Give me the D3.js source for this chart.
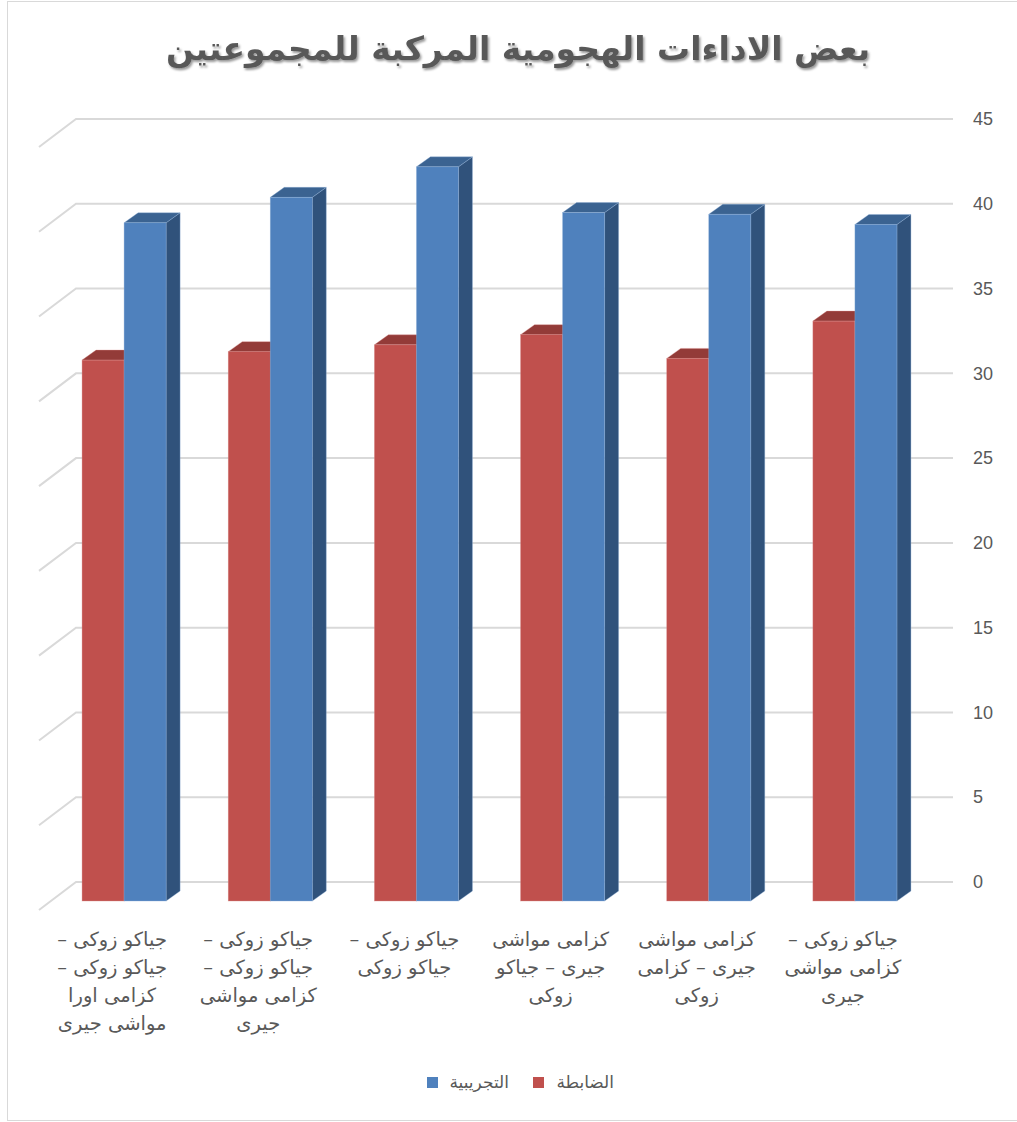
<!DOCTYPE html>
<html>
<head>
<meta charset="utf-8">
<script src="https://cdn.jsdelivr.net/npm/d3@7"></script>
<style>
  html, body { margin: 0; padding: 0; background: #fff; }
  svg { display: block; }
</style>
</head>
<body>
<svg id="chart" width="1017" height="1122"></svg>
<script>
// ---- data ----
const titleText = "بعض الاداءات الهجومية المركبة للمجموعتين";
const categories = [
  "جياكو زوكى –\nجياكو زوكى –\nكزامى اورا\nمواشى جيرى",
  "جياكو زوكى –\nجياكو زوكى –\nكزامى مواشى\nجيرى",
  "جياكو زوكى –\nجياكو زوكى",
  "كزامى مواشى\nجيرى – جياكو\nزوكى",
  "كزامى مواشى\nجيرى – كزامى\nزوكى",
  "جياكو زوكى –\nكزامى مواشى\nجيرى"
];
const seriesNames = ["الضابطة", "التجريبية"];
const controlValues = [31.9, 32.4, 32.8, 33.4, 32.0, 34.2];
const experimentalValues = [40.0, 41.5, 43.3, 40.6, 40.5, 39.9];
const tickValues = [0, 5, 10, 15, 20, 25, 30, 35, 40, 45];

const seriesValues = [controlValues, experimentalValues];
const colors = [
  { front: "#C0504D", top: "#933B38", side: "#7F2F2C", edge: "#D98C8A" },
  { front: "#4F81BD", top: "#3B6391", side: "#30527B", edge: "#8FB0D8" }
];

// ---- geometry ----
const svg = d3.select("#chart");
const depthX = -37, depthY = 28;          // full floor depth (back wall -> front edge)
const barDX = -25, barDY = 19;            // bar front face offset from back wall
const barDepthX = 14, barDepthY = -10;    // visible bar depth

const yBack = d3.scaleLinear().domain([0, 45]).range([882, 119]);
const yFront = v => yBack(v) + barDY;

const xBack = d3.scaleBand().domain(d3.range(categories.length))
  .range([76, 953]).paddingInner(0.425).paddingOuter(0.2125);
const xSub = d3.scaleBand().domain(d3.range(seriesNames.length))
  .range([0, xBack.bandwidth()]);

// border
svg.append("rect").attr("x", 7.5).attr("y", 1.5).attr("width", 1020).attr("height", 1119)
  .attr("fill", "none").attr("stroke", "#d9d9d9").attr("stroke-width", 1);

// title with shadow
const defs = svg.append("defs");
const f = defs.append("filter").attr("id", "shadow").attr("x", "-5%").attr("y", "-20%")
  .attr("width", "110%").attr("height", "150%");
f.append("feDropShadow").attr("dx", 1.5).attr("dy", 2).attr("stdDeviation", 1)
  .attr("flood-color", "#000").attr("flood-opacity", 0.4);

svg.append("text")
  .attr("x", 518).attr("y", 60)
  .attr("text-anchor", "middle")
  .attr("direction", "rtl")
  .attr("font-family", "DejaVu Sans, sans-serif")
  .attr("font-weight", "bold")
  .attr("font-size", 33)
  .attr("fill", "#595959")
  .attr("filter", "url(#shadow)")
  .text(titleText);

// gridlines: back wall + left wall diagonal
const grid = svg.append("g").attr("stroke", "#d9d9d9").attr("stroke-width", 2).attr("fill", "none");
tickValues.forEach(t => {
  const y = yBack(t);
  grid.append("path")
    .attr("d", `M${76 + depthX},${y + depthY}L76,${y}L953,${y}`);
});

// right axis labels
const axis = d3.axisRight(yBack).tickValues(tickValues).tickSize(0).tickPadding(0);
const ag = svg.append("g").attr("transform", "translate(973,0)").call(axis);
ag.select(".domain").remove();
ag.selectAll("text")
  .attr("font-family", "Liberation Sans, Arial, sans-serif")
  .attr("font-size", 18)
  .attr("fill", "#595959")
  .attr("text-anchor", "start");

// bars
const barsG = svg.append("g");
categories.forEach((c, i) => {
  seriesValues.forEach((vals, s) => {
    const v = vals[i];
    const x = xBack(i) + barDX + xSub(s);
    const w = xSub.bandwidth();
    const yt = yFront(v), yb = yFront(0);
    const col = colors[s];
    const g = barsG.append("g");
    g.append("path")
      .attr("d", `M${x + w},${yt}L${x + w + barDepthX},${yt + barDepthY}L${x + w + barDepthX},${yb + barDepthY}L${x + w},${yb}Z`)
      .attr("fill", col.side).attr("stroke", col.edge).attr("stroke-width", 0.6).attr("stroke-opacity", 0.6);
    g.append("path")
      .attr("d", `M${x},${yt}L${x + barDepthX},${yt + barDepthY}L${x + w + barDepthX},${yt + barDepthY}L${x + w},${yt}Z`)
      .attr("fill", col.top).attr("stroke", col.edge).attr("stroke-width", 0.6).attr("stroke-opacity", 0.6);
    g.append("rect")
      .attr("x", x).attr("y", yt).attr("width", w).attr("height", yb - yt)
      .attr("fill", col.front).attr("stroke", col.edge).attr("stroke-width", 0.6).attr("stroke-opacity", 0.6);
  });
});

// category labels (centered at front floor edge)
const labG = svg.append("g")
  .attr("font-family", "DejaVu Sans, sans-serif")
  .attr("font-size", 19.5)
  .attr("fill", "#595959");
categories.forEach((c, i) => {
  const cx = xBack(i) + xBack.bandwidth() / 2 + depthX;
  c.split("\n").forEach((line, k) => {
    labG.append("text")
      .attr("x", cx).attr("y", 946 + k * 28)
      .attr("text-anchor", "middle")
      .attr("direction", "rtl")
      .text(line);
  });
});

// legend
const legG = svg.append("g").attr("font-family", "DejaVu Sans, sans-serif")
  .attr("font-size", 17).attr("fill", "#595959");
const legendItems = [
  { s: 1, sq: 427, tx: 509 },
  { s: 0, sq: 533, tx: 614 }
];
legendItems.forEach(d => {
  legG.append("rect").attr("x", d.sq).attr("y", 1077).attr("width", 11).attr("height", 11)
    .attr("fill", colors[d.s].front);
  legG.append("text").attr("x", d.tx).attr("y", 1088)
    .attr("text-anchor", "end").attr("direction", "ltr")
    .text(seriesNames[d.s]);
});
</script>
</body>
</html>
